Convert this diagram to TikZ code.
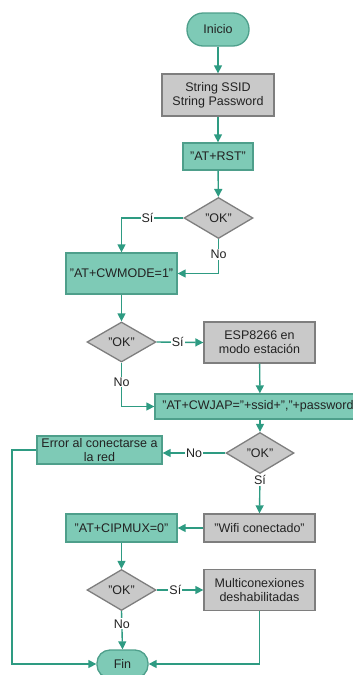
\documentclass[tikz,border=0pt]{standalone}
\usepackage{fontspec}
\setmainfont{Liberation Sans}
\usetikzlibrary{shapes.geometric,arrows.meta}

\definecolor{tealfill}{HTML}{7ECAB6}
\definecolor{tealline}{HTML}{4E9F8B}
\definecolor{arrowcol}{HTML}{2E9B82}
\definecolor{grayfill}{HTML}{C9C9C9}
\definecolor{grayline}{HTML}{7E7E7E}
\definecolor{txt}{HTML}{222222}

\tikzset{
  x=1pt, y=-1pt,
  every node/.style={font=\fontsize{12.5}{14}\selectfont, text=txt, align=center},
  tealbox/.style={rectangle, draw=tealline, fill=tealfill, line width=1.3pt, inner sep=0pt},
  graybox/.style={rectangle, draw=grayline, fill=grayfill, line width=1.3pt, inner sep=0pt},
  terminal/.style={rectangle, rounded corners=13pt, draw=tealline, fill=tealfill, line width=1.3pt, inner sep=0pt},
  decision/.style={diamond, draw=grayline, fill=grayfill, line width=1.3pt, inner sep=0pt},
  flow/.style={draw=arrowcol, line width=1.4pt, -{Triangle[length=8pt,width=8pt]}},
  lbl/.style={fill=white, inner sep=1pt}
}

\begin{document}
\begin{tikzpicture}
\clip (0,0) rectangle (353,675);

% nodes
\node[terminal, minimum width=62pt, minimum height=33pt, rounded corners=16pt] (ini) at (218,29.5) {Inicio};
\node[graybox, minimum width=112pt, minimum height=42pt] (str) at (218,95) {String SSID\\String Password};
\node[tealbox, minimum width=70pt, minimum height=27pt] (rst) at (218,156.5) {"AT+RST"};
\node[decision, minimum width=69pt, minimum height=41pt] (d1) at (218.5,218) {"OK"};
\node[tealbox, minimum width=111pt, minimum height=41pt] (cwm) at (121.5,273.5) {"AT+CWMODE=1"};
\node[decision, minimum width=69pt, minimum height=40pt] (d2) at (121.5,342) {"OK"};
\node[graybox, minimum width=111pt, minimum height=41pt] (esp) at (259.5,342.5) {ESP8266 en\\modo estación};
\node[tealbox, minimum width=210pt, minimum height=25pt] (jap) at (260,406.5) {"AT+CWJAP="+ssid+","+password"};
\node[decision, minimum width=68pt, minimum height=41pt] (d3) at (260,453) {"OK"};
\node[tealbox, minimum width=125pt, minimum height=28pt] (err) at (99.5,450) {Error al conectarse a\\la red};
\node[graybox, minimum width=111pt, minimum height=28pt] (wifi) at (259.5,528) {"Wifi conectado"};
\node[tealbox, minimum width=111pt, minimum height=28pt] (cip) at (121.5,528) {"AT+CIPMUX=0"};
\node[decision, minimum width=69pt, minimum height=41pt] (d4) at (121.5,590) {"OK"};
\node[graybox, minimum width=111pt, minimum height=41pt] (mul) at (259.5,590) {Multiconexiones\\deshabilitadas};
\node[terminal, minimum width=51pt, minimum height=28pt] (fin) at (122.5,664) {Fin};

\coordinate (eB) at (12,664);

% connectors
\draw[flow] (ini) -- (str);
\draw[flow] (str) -- (rst);
\draw[flow] (rst) -- (d1);
\draw[flow] (d1.west) -| node[lbl, pos=0.29] {Sí} (cwm.north);
\draw[flow] (d1.south) |- node[lbl, pos=0.22] {No} (cwm.east);
\draw[flow] (cwm) -- (d2);
\draw[flow] (d2.east) -- node[lbl, pos=0.45] {Sí} (esp.west);
\draw[flow] (esp) -- (jap);
\draw[flow] (d2.south) |- node[lbl, pos=0.22] {No} (jap.west);
\draw[flow] (jap.south -| d3) -- (d3);
\draw[flow] (d3.west) -- node[lbl, pos=0.5] {No} (d3.west -| err.east);
\draw[flow] (d3.south) -- node[lbl, pos=0.15] {Sí} (wifi.north);
\draw[flow] (wifi) -- (cip);
\draw[flow] (cip) -- (d4);
\draw[flow] (d4.east) -- node[lbl, pos=0.4] {Sí} (mul.west);
\draw[flow] (d4.south) -- node[lbl, pos=0.33] {No} (fin.north);
\draw[flow] (err.west) -- (err.west -| eB) -- (eB) -- (fin.west);
\draw[flow] (mul.south) |- (fin.east);
\end{tikzpicture}
\end{document}
